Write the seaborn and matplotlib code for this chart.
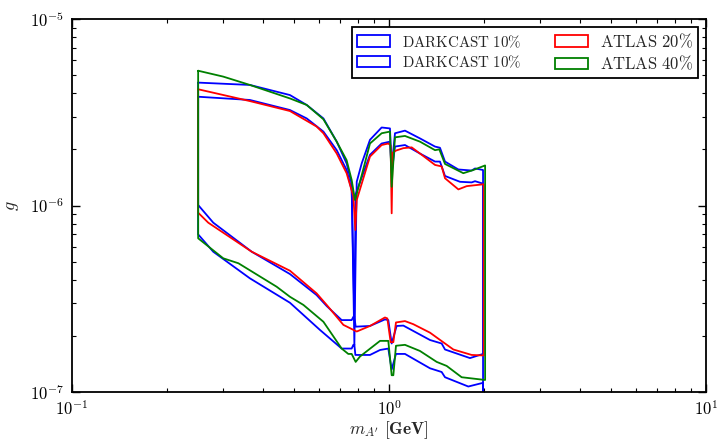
import numpy as np
import matplotlib
matplotlib.use("Agg")
import matplotlib.pyplot as plt
import seaborn as sns
from matplotlib.patches import Rectangle
from matplotlib import ticker

# ---------------- data ----------------
dcA_up_x = [0.250, 0.364, 0.487, 0.550, 0.621, 0.684, 0.735, 0.7625, 0.7776, 0.785, 0.871, 0.948,
            1.007, 1.0196, 1.0445, 1.123, 1.252, 1.397, 1.448, 1.502, 1.675, 1.823, 1.868, 1.98]
dcA_up_y = [3.83e-6, 3.68e-6, 3.25e-6, 2.93e-6, 2.49e-6, 1.98e-6, 1.55e-6, 1.21e-6, 2.53e-7, 1.15e-6,
            1.87e-6, 2.15e-6, 2.20e-6, 1.5e-6, 2.07e-6, 2.11e-6, 1.90e-6, 1.72e-6, 1.72e-6, 1.44e-6,
            1.34e-6, 1.33e-6, 1.35e-6, 1.31e-6]
dcA_lo_x = [0.250, 0.279, 0.369, 0.487, 0.591, 0.636, 0.709, 0.7625, 0.772, 0.7776, 0.785, 0.871,
            0.971, 0.995, 1.0196, 1.057, 1.110, 1.347, 1.466, 1.502, 1.801, 1.98]
dcA_lo_y = [1.006e-6, 8.09e-7, 5.65e-7, 4.29e-7, 3.31e-7, 2.89e-7, 2.43e-7, 2.43e-7, 2.53e-7, 2.53e-7,
            2.24e-7, 2.26e-7, 2.45e-7, 2.43e-7, 1.82e-7, 2.26e-7, 2.27e-7, 1.90e-7, 1.82e-7, 1.69e-7,
            1.52e-7, 1.60e-7]

dcB_up_x = [0.250, 0.364, 0.487, 0.550, 0.621, 0.684, 0.735, 0.7625, 0.7776, 0.791, 0.820, 0.871,
            0.948, 1.007, 1.0196, 1.0445, 1.123, 1.252, 1.397, 1.448, 1.502, 1.655, 1.823, 1.868, 1.98]
dcB_up_y = [4.56e-6, 4.43e-6, 3.91e-6, 3.46e-6, 2.93e-6, 2.20e-6, 1.68e-6, 1.31e-6, 1.79e-7, 1.34e-6,
            1.68e-6, 2.25e-6, 2.62e-6, 2.59e-6, 1.6e-6, 2.44e-6, 2.52e-6, 2.29e-6, 2.07e-6, 2.04e-6,
            1.72e-6, 1.56e-6, 1.54e-6, 1.58e-6, 1.55e-6]
dcB_lo_x = [0.250, 0.279, 0.364, 0.487, 0.606, 0.709, 0.7625, 0.772, 0.7776, 0.7833, 0.791, 0.871,
            0.937, 0.995, 1.0196, 1.052, 1.123, 1.347, 1.466, 1.502, 1.779, 1.98, 1.98]
dcB_lo_y = [7.00e-7, 5.65e-7, 4.07e-7, 3.01e-7, 2.15e-7, 1.71e-7, 1.71e-7, 1.79e-7, 1.79e-7, 1.58e-7,
            1.58e-7, 1.58e-7, 1.68e-7, 1.71e-7, 1.32e-7, 1.60e-7, 1.60e-7, 1.34e-7, 1.28e-7, 1.20e-7,
            1.07e-7, 1.12e-7, 9.0e-8]

at20_up_x = [0.250, 0.364, 0.487, 0.591, 0.621, 0.684, 0.735, 0.772, 0.783, 0.791, 0.871, 0.948,
             0.995, 1.012, 1.0196, 1.027, 1.052, 1.110, 1.179, 1.268, 1.397, 1.466, 1.502, 1.655,
             1.758, 1.99]
at20_up_y = [4.20e-6, 3.63e-6, 3.21e-6, 2.65e-6, 2.44e-6, 1.90e-6, 1.49e-6, 1.12e-6, 7.39e-7, 1.07e-6,
             1.83e-6, 2.11e-6, 2.15e-6, 2.10e-6, 9.08e-7, 1.92e-6, 1.97e-6, 2.03e-6, 2.05e-6, 1.87e-6,
             1.65e-6, 1.62e-6, 1.40e-6, 1.22e-6, 1.27e-6, 1.30e-6]
at20_lo_x = [0.250, 0.269, 0.369, 0.487, 0.591, 0.636, 0.718, 0.791, 0.871, 0.971, 0.988, 1.012,
             1.032, 1.052, 1.123, 1.193, 1.347, 1.502, 1.596, 1.823, 1.99]
at20_lo_y = [9.15e-7, 8.09e-7, 5.65e-7, 4.47e-7, 3.38e-7, 2.93e-7, 2.29e-7, 2.11e-7, 2.26e-7, 2.51e-7,
             2.48e-7, 1.85e-7, 1.85e-7, 2.36e-7, 2.40e-7, 2.31e-7, 2.08e-7, 1.82e-7, 1.69e-7, 1.58e-7,
             1.57e-7]

at40_up_x = [0.250, 0.300, 0.364, 0.487, 0.550, 0.621, 0.684, 0.735, 0.7625, 0.781, 0.820, 0.871,
             0.948, 1.007, 1.0196, 1.0445, 1.123, 1.252, 1.397, 1.441, 1.502, 1.716, 1.845, 2.01]
at40_up_y = [5.28e-6, 4.91e-6, 4.43e-6, 3.75e-6, 3.46e-6, 2.90e-6, 2.20e-6, 1.75e-6, 1.37e-6, 1.07e-6,
             1.45e-6, 2.15e-6, 2.44e-6, 2.49e-6, 1.26e-6, 2.32e-6, 2.36e-6, 2.20e-6, 1.98e-6, 2.00e-6,
             1.67e-6, 1.49e-6, 1.55e-6, 1.64e-6]
at40_lo_x = [0.250, 0.300, 0.335, 0.442, 0.487, 0.537, 0.621, 0.709, 0.744, 0.7625, 0.785, 0.810,
             0.937, 0.995, 1.0196, 1.032, 1.052, 1.123, 1.252, 1.414, 1.520, 1.695, 2.01]
at40_lo_y = [6.67e-7, 5.21e-7, 4.90e-7, 3.67e-7, 3.24e-7, 2.93e-7, 2.38e-7, 1.71e-7, 1.60e-7, 1.60e-7,
             1.45e-7, 1.55e-7, 1.88e-7, 1.88e-7, 1.23e-7, 1.23e-7, 1.77e-7, 1.79e-7, 1.66e-7, 1.45e-7,
             1.38e-7, 1.20e-7, 1.16e-7]

labels = [r"$\mathrm{DARKCAST\ 10\%}$", r"$\mathrm{DARKCAST\ 10\%}$",
          r"$\mathrm{ATLAS\ 20\%}$", r"$\mathrm{ATLAS\ 40\%}$"]
colors = ["#0000ff", "#0000ff", "#ff0000", "#008000"]

contours = [
    (dcA_up_x, dcA_up_y, dcA_lo_x, dcA_lo_y),
    (dcB_up_x, dcB_up_y, dcB_lo_x, dcB_lo_y),
    (at20_up_x, at20_up_y, at20_lo_x, at20_lo_y),
    (at40_up_x, at40_up_y, at40_lo_x, at40_lo_y),
]

# ---------------- style ----------------
sns.set_style("ticks")
plt.rcParams["mathtext.fontset"] = "cm"
plt.rcParams["font.family"] = ["DejaVu Serif"]

fig = plt.figure(figsize=(7.19, 4.41), dpi=100)
ax = fig.add_axes([72 / 719, 1 - 392 / 441, (706 - 72) / 719, (392 - 19) / 441])
ax.set_xscale("log")
ax.set_yscale("log")

for (ux, uy, lx, ly), c in zip(contours, colors):
    xs = list(ux) + list(lx[::-1]) + [ux[0]]
    ys = list(uy) + list(ly[::-1]) + [uy[0]]
    sns.lineplot(x=xs, y=ys, sort=False, estimator=None, color=c, lw=1.3, ax=ax)

ax.set_xlim(0.1, 10)
ax.set_ylim(1e-7, 1e-5)

fmt = ticker.FuncFormatter(lambda v, p: rf"$10^{{{int(round(np.log10(v)))}}}$")
ax.xaxis.set_major_formatter(fmt)
ax.yaxis.set_major_formatter(fmt)
ax.xaxis.set_major_locator(ticker.LogLocator(base=10, numticks=10))
ax.yaxis.set_major_locator(ticker.LogLocator(base=10, numticks=10))
ax.xaxis.set_minor_locator(ticker.LogLocator(base=10, subs=np.arange(2, 10), numticks=20))
ax.yaxis.set_minor_locator(ticker.LogLocator(base=10, subs=np.arange(2, 10), numticks=20))
ax.xaxis.set_minor_formatter(ticker.NullFormatter())
ax.yaxis.set_minor_formatter(ticker.NullFormatter())
ax.tick_params(which="both", direction="in", top=True, right=True, colors="black",
               labelsize=12)
ax.tick_params(which="major", length=6, width=1.0, pad=6)
ax.tick_params(which="minor", length=3, width=0.8)
for s in ax.spines.values():
    s.set_linewidth(1.3)
    s.set_color("black")

ax.set_xlabel(r"$m_{A'}\ \mathbf{[GeV]}$", fontsize=12.5, labelpad=0)
ax.set_ylabel(r"$g$", fontsize=13, labelpad=6)

handles = [Rectangle((0, 0), 1, 1, facecolor="none", edgecolor=c, lw=1.3) for c in colors]
leg = ax.legend(handles, labels, loc="upper right", ncol=2, fontsize=12,
                frameon=True, fancybox=False, framealpha=1, edgecolor="black",
                borderaxespad=0.5, handlelength=2.0, handleheight=0.7,
                handletextpad=0.7, columnspacing=2.0, labelspacing=0.25, borderpad=0.3)
leg.get_frame().set_linewidth(1.3)
for t in leg.get_texts()[:2]:
    t.set_fontsize(10.8)

fig.savefig("out.png", dpi=100)
